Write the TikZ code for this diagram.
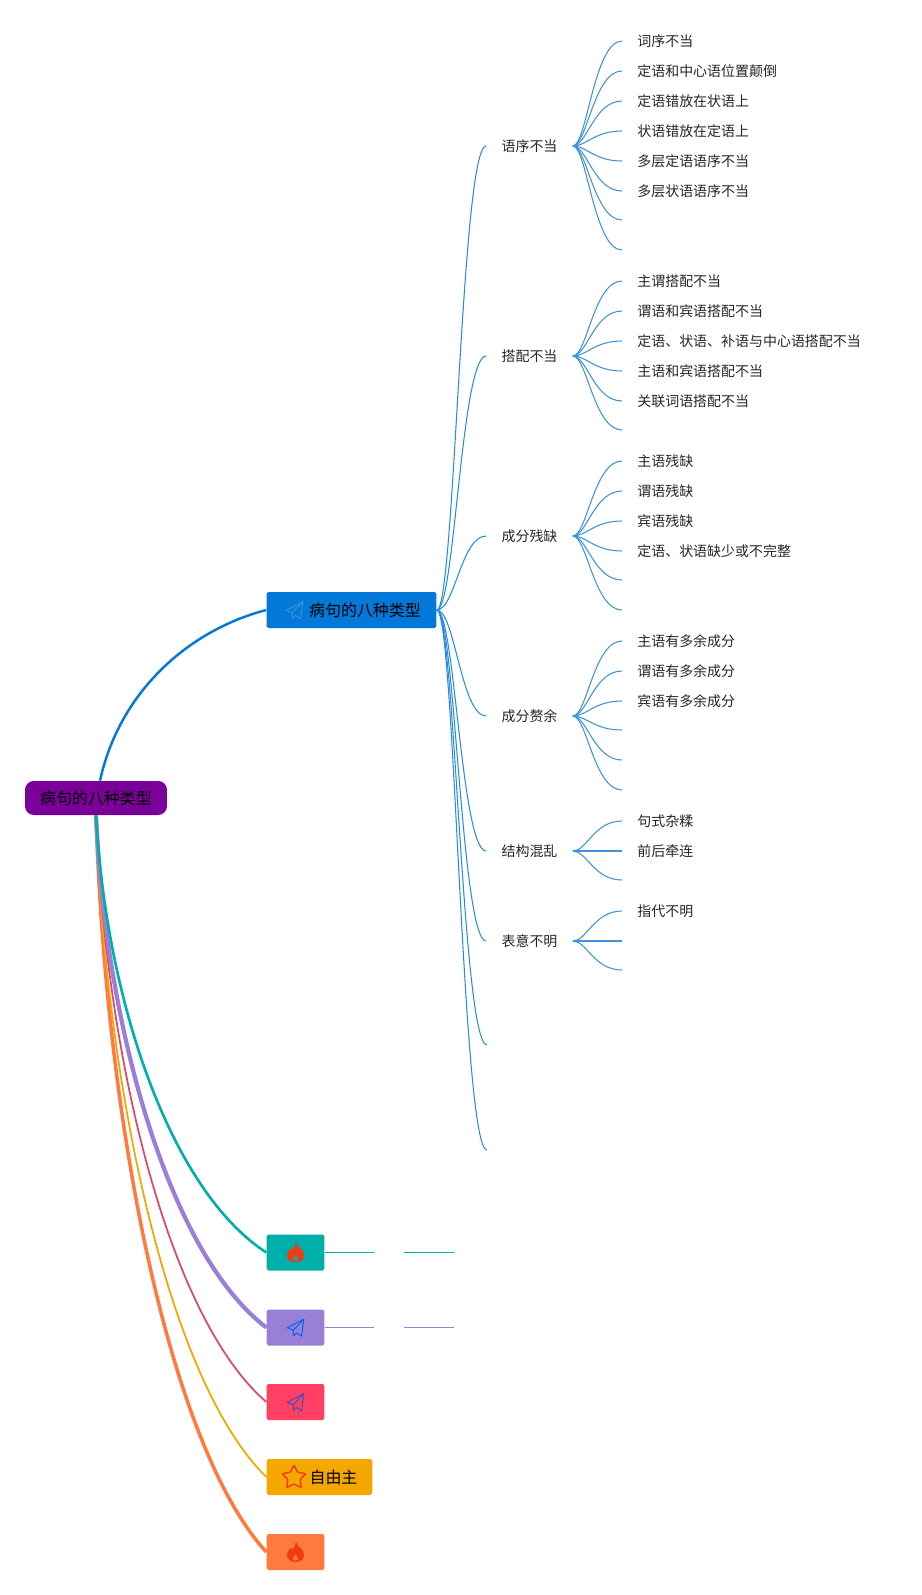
\documentclass[tikz,border=0pt]{standalone}
\usepackage{fontspec}
\setmainfont{Noto Sans CJK SC}
\usetikzlibrary{shapes.geometric}
\definecolor{rootpurple}{HTML}{7B0099}
\definecolor{mainblue}{HTML}{0279D9}
\definecolor{leafblue}{HTML}{3C93DA}
\definecolor{boxteal}{HTML}{00AFAB}
\definecolor{boxviolet}{HTML}{9A7FD9}
\definecolor{boxpink}{HTML}{FF3F64}
\definecolor{linepink}{HTML}{E0486A}
\definecolor{boxamber}{HTML}{F4A700}
\definecolor{boxorange}{HTML}{FF7A3C}
\definecolor{flamered}{HTML}{F2390F}
\tikzset{
  bigtext/.style={font=\fontsize{9.1}{11}\selectfont},
  topic/.style={bigtext,inner sep=0pt,minimum height=.72cm,rounded corners=1pt},
  smallbox/.style={topic,minimum width=1.152cm},
  branch/.style={font=\fontsize{7.95}{9}\selectfont,text=black!85,inner sep=0pt,minimum width=1.72cm},
  leaf/.style={font=\fontsize{7.95}{9}\selectfont,text=black!85,anchor=west,inner ysep=0pt,inner xsep=.3cm},
  thin curve/.style={leafblue,line width=.6pt,to path={.. controls +(14,0) and +(-28,0) .. (\tikztotarget)}},
  long curve/.style={mainblue!85!white,line width=.6pt,to path={.. controls +(18,0) and +(-25,0) .. (\tikztotarget)}},
  planeicon/.pic={
    \draw[pic actions,line join=round] (8.3,-8.3)--(-8.3,.3)--(-2.3,2.7)--(-2,8.2)--(1,5.5)--(6,8.7)--cycle;
    \draw[pic actions,line join=round] (-2.3,2.7)--(8.3,-8.3);
  },
  fireicon/.pic={
    \fill[pic actions,even odd rule] (.5,-10.5) .. controls (1,-6) and (8.5,-3) .. (8.5,3)
      .. controls (8.5,7.5) and (4.5,10) .. (0,10) .. controls (-4.5,10) and (-8.5,7.5) .. (-8.5,3)
      .. controls (-8.5,-.5) and (-5.5,-3) .. (-4.5,-4.5) .. controls (-4,-3) and (-3.5,-2.5) .. (-3,-2)
      .. controls (-1,-4.5) and (.5,-7) .. (.5,-10.5) -- cycle
      (0,2) .. controls (-1.5,4.5) and (-3.5,6) .. (-2.5,8) .. controls (-1.5,9.2) and (1.5,9.2) .. (2.5,8)
      .. controls (3.5,6) and (1.5,4.5) .. (0,2) -- cycle;
  }
}
\begin{document}
\begin{tikzpicture}[x=.02cm,y=-.02cm]
\useasboundingbox (0,0) rectangle (921,1595);
% main nodes
\node[topic,fill=rootpurple,minimum width=2.84cm,minimum height=.68cm,rounded corners=5pt] (root) at (96,798){\raisebox{-.5pt}{病句的八种类型}};
\node[topic,fill=mainblue,minimum width=3.4cm] (blue) at (351.5,610){\hspace{.54cm}病句的八种类型};
\pic[draw=leafblue,line width=.5pt] at (294.5,610){planeicon};
\node[smallbox,fill=boxteal] (teal) at (295.5,1252.5){};
\pic[fill=flamered] at (295.5,1252.5){fireicon};
\node[smallbox,fill=boxviolet] (violet) at (295.5,1327.5){};
\pic[draw=blue!60!cyan,line width=.6pt] at (295.5,1327.5){planeicon};
\node[smallbox,fill=boxpink] (pink) at (295.5,1402){};
\pic[draw=blue!40!gray,line width=.6pt] at (295.5,1402){planeicon};
\node[topic,fill=boxamber,minimum width=2.112cm] (amber) at (319.5,1477){\hspace{.56cm}自由主};
\node[star,star points=5,star point ratio=1.95,draw=flamered,line width=.8pt,rounded corners=.5pt,inner sep=0pt,minimum size=.5cm] (amberstar) at (294,1477.5){};
\node[smallbox,fill=boxorange] (orange) at (295.5,1552){};
\pic[fill=flamered] at (295.5,1552){fireicon};
% from the root
\draw[mainblue,line width=1.4pt] ([xshift=.08cm]root.north) .. controls (120,690) and (190,630) .. (blue.west);
\draw[boxorange,line width=2pt] (root.south) .. controls (106,1128) and (170,1447) .. (orange.west);
\draw[boxamber,line width=1pt] (root.south) .. controls (106,1096) and (170,1383) .. (amber.west);
\draw[linepink,line width=1pt] (root.south) .. controls (106,1064) and (170,1319) .. (pink.west);
\draw[boxviolet,line width=2.4pt] (root.south) .. controls (106,1032) and (170,1254) .. (violet.west);
\draw[boxteal,line width=1.5pt] (root.south) .. controls (106,1000) and (170,1190) .. (teal.west);
% stubs behind the small boxes
\coordinate (tealA) at (374,1252.5);
\coordinate (tealB) at (404,1252.5);
\coordinate (tealC) at (454,1252.5);
\coordinate (violetA) at (374,1327.5);
\coordinate (violetB) at (404,1327.5);
\coordinate (violetC) at (454,1327.5);
\draw[boxteal,line width=.55pt] (teal.east)--(tealA);
\draw[boxteal,line width=.55pt] (tealB)--(tealC);
\draw[boxviolet,line width=.55pt] (violet.east)--(violetA);
\draw[boxviolet,line width=.55pt] (violetB)--(violetC);
% second level
\node[branch] (order) at (529.5,146){语序不当};
\node[branch] (match) at (529.5,356){搭配不当};
\node[branch] (miss) at (529.5,536){成分残缺};
\node[branch] (extra) at (529.5,716){成分赘余};
\node[branch] (mixed) at (529.5,851){结构混乱};
\node[branch] (vague) at (529.5,941){表意不明};
\coordinate (emptyA) at (487,1045);
\coordinate (emptyB) at (487,1150);
\draw[long curve] (blue.east) to (order.west);
\draw[long curve] (blue.east) to (match.west);
\draw[long curve] (blue.east) to (miss.west);
\draw[long curve] (blue.east) to (extra.west);
\draw[long curve] (blue.east) to (mixed.west);
\draw[long curve] (blue.east) to (vague.west);
\draw[long curve] (blue.east) to (emptyA);
\draw[long curve] (blue.east) to (emptyB);
% word order
\node[leaf] (orderA) at (622,41){词序不当};
\node[leaf] (orderB) at (622,71){定语和中心语位置颠倒};
\node[leaf] (orderC) at (622,101){定语错放在状语上};
\node[leaf] (orderD) at (622,131){状语错放在定语上};
\node[leaf] (orderE) at (622,161){多层定语语序不当};
\node[leaf] (orderF) at (622,191){多层状语语序不当};
\coordinate (orderG) at (622,220);
\coordinate (orderH) at (622,250);
\draw[thin curve] (order.east) to (orderA.west);
\draw[thin curve] (order.east) to (orderB.west);
\draw[thin curve] (order.east) to (orderC.west);
\draw[thin curve] (order.east) to (orderD.west);
\draw[thin curve] (order.east) to (orderE.west);
\draw[thin curve] (order.east) to (orderF.west);
\draw[thin curve] (order.east) to (orderG);
\draw[thin curve] (order.east) to (orderH);
% collocation
\node[leaf] (matchA) at (622,281){主谓搭配不当};
\node[leaf] (matchB) at (622,311){谓语和宾语搭配不当};
\node[leaf] (matchC) at (622,341){定语、状语、补语与中心语搭配不当};
\node[leaf] (matchD) at (622,371){主语和宾语搭配不当};
\node[leaf] (matchE) at (622,401){关联词语搭配不当};
\coordinate (matchF) at (622,430);
\draw[thin curve] (match.east) to (matchA.west);
\draw[thin curve] (match.east) to (matchB.west);
\draw[thin curve] (match.east) to (matchC.west);
\draw[thin curve] (match.east) to (matchD.west);
\draw[thin curve] (match.east) to (matchE.west);
\draw[thin curve] (match.east) to (matchF);
% missing parts
\node[leaf] (missA) at (622,461){主语残缺};
\node[leaf] (missB) at (622,491){谓语残缺};
\node[leaf] (missC) at (622,521){宾语残缺};
\node[leaf] (missD) at (622,551){定语、状语缺少或不完整};
\coordinate (missE) at (622,580);
\coordinate (missF) at (622,610);
\draw[thin curve] (miss.east) to (missA.west);
\draw[thin curve] (miss.east) to (missB.west);
\draw[thin curve] (miss.east) to (missC.west);
\draw[thin curve] (miss.east) to (missD.west);
\draw[thin curve] (miss.east) to (missE);
\draw[thin curve] (miss.east) to (missF);
% surplus parts
\node[leaf] (extraA) at (622,641){主语有多余成分};
\node[leaf] (extraB) at (622,671){谓语有多余成分};
\node[leaf] (extraC) at (622,701){宾语有多余成分};
\coordinate (extraD) at (622,730);
\coordinate (extraE) at (622,760);
\coordinate (extraF) at (622,790);
\draw[thin curve] (extra.east) to (extraA.west);
\draw[thin curve] (extra.east) to (extraB.west);
\draw[thin curve] (extra.east) to (extraC.west);
\draw[thin curve] (extra.east) to (extraD);
\draw[thin curve] (extra.east) to (extraE);
\draw[thin curve] (extra.east) to (extraF);
% mixed structure
\node[leaf] (mixedA) at (622,821){句式杂糅};
\node[leaf] (mixedB) at (622,851){前后牵连};
\coordinate (mixedC) at (622,880);
\draw[thin curve] (mixed.east) to (mixedA.west);
\draw[thin curve] (mixed.east) to (mixedB.west);
\draw[thin curve] (mixed.east) to (mixedC);
% unclear meaning
\node[leaf] (vagueA) at (622,911){指代不明};
\coordinate (vagueB) at (622,941);
\coordinate (vagueC) at (622,970);
\draw[thin curve] (vague.east) to (vagueA.west);
\draw[thin curve] (vague.east) to (vagueB);
\draw[thin curve] (vague.east) to (vagueC);
\end{tikzpicture}
\end{document}
